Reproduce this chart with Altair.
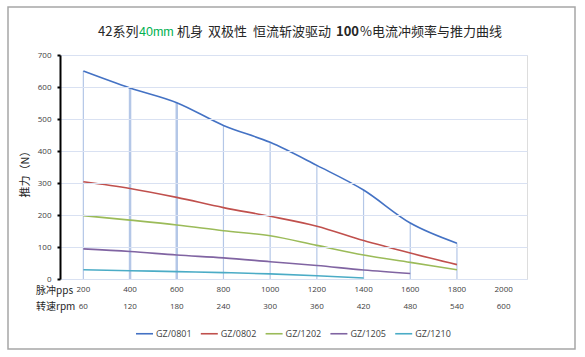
import altair as alt
import pandas as pd

# ---- data ----
x_pps = [200, 400, 600, 800, 1000, 1200, 1400, 1600, 1800]
gz0801 = [650, 597, 551, 480, 427, 355, 278, 175, 112]
gz0802 = [304, 283, 255, 223, 196, 165, 120, 81, 45]
gz1202 = [198, 184, 169, 151, 135, 105, 75, 52, 29]
gz1205 = [94, 86, 75, 66, 54, 42, 28, 17]
gz1210 = [29, 26, 23, 20, 16, 10, 3]

series_names = ["GZ/0801", "GZ/0802", "GZ/1202", "GZ/1205", "GZ/1210"]
series_values = [gz0801, gz0802, gz1202, gz1205, gz1210]
series_colors = ["#4472C4", "#C0504D", "#9BBB59", "#8064A2", "#4BACC6"]

tick_pps = [200, 400, 600, 800, 1000, 1200, 1400, 1600, 1800, 2000]
tick_rpm = [60, 120, 180, 240, 300, 360, 420, 480, 540, 600]

rows = []
for name, vals in zip(series_names, series_values):
    for i, v in enumerate(vals):
        rows.append({"pps": x_pps[i], "force": v, "series": name, "order": i})
df = pd.DataFrame(rows)

drop_df = pd.DataFrame({"pps": x_pps, "force": gz0801})
ticks_df = pd.DataFrame({"pps": tick_pps, "rpm": [str(r) for r in tick_rpm]})
one = pd.DataFrame({"a": [0]})

W, H = 467, 224
xs = alt.Scale(domain=[100, 2100], nice=False, zero=False)
ys = alt.Scale(domain=[0, 700], nice=False)

CJK = "Noto Sans CJK SC"
LAT = "Open Sans"

frame = alt.Chart(one).mark_rect(fill=None, stroke="#a6a6a6", strokeWidth=1.5).encode(
    x=alt.value(-52), x2=alt.value(515), y=alt.value(-48), y2=alt.value(294)
)

yaxis = alt.Axis(values=list(range(0, 701, 100)), grid=True, gridColor="#D9E1F2",
                 gridWidth=1.2, domainColor="#000000", domainWidth=2,
                 tickColor="#000000", tickSize=3, tickWidth=2, labelPadding=6,
                 labelFont=LAT, labelFontSize=8, labelColor="#404040",
                 title="推力（N）", titleFont=CJK, titleFontSize=11,
                 titleFontWeight="normal", titleColor="#262626",
                 titleX=-30, titleY=116, titleAngle=270, zindex=1)

drops = alt.Chart(drop_df).mark_rule(color="#B4C7E7").encode(
    x=alt.X("pps:Q", scale=xs, axis=None),
    y=alt.Y("force:Q", scale=ys, axis=yaxis),
    y2=alt.datum(0),
    strokeWidth=alt.condition("datum.pps == 400 || datum.pps == 600", alt.value(2.5), alt.value(1.2)),
)

lines = alt.Chart(df).mark_line(strokeWidth=1.6, interpolate="monotone").encode(
    x=alt.X("pps:Q", scale=xs, axis=None),
    y=alt.Y("force:Q", scale=ys, axis=yaxis),
    order="order:Q",
    color=alt.Color("series:N", sort=series_names,
                    scale=alt.Scale(domain=series_names, range=series_colors),
                    legend=alt.Legend(orient="none", legendX=75, legendY=269, direction="horizontal",
                                      title=None, symbolType="stroke", symbolSize=289,
                                      symbolStrokeWidth=1.6, labelFont=LAT, labelFontSize=9,
                                      labelColor="#404040", columnPadding=4.8, labelOffset=2)),
)

pps_txt = alt.Chart(ticks_df).mark_text(font=LAT, fontSize=8, color="#404040", baseline="middle").encode(
    x=alt.X("pps:Q", scale=xs), y=alt.value(235), text="pps:N"
)
rpm_txt = alt.Chart(ticks_df).mark_text(font=LAT, fontSize=8, color="#404040", baseline="middle").encode(
    x=alt.X("pps:Q", scale=xs), y=alt.value(252), text="rpm:N"
)
row1 = alt.Chart(one).mark_text(text="脉冲pps", font=CJK, fontSize=10, color="#262626",
                                align="left", baseline="middle").encode(x=alt.value(-24), y=alt.value(236))
row2 = alt.Chart(one).mark_text(text="转速rpm", font=CJK, fontSize=10, color="#262626",
                                align="left", baseline="middle").encode(x=alt.value(-24), y=alt.value(252))

def title_part(text, x, color="#262626", weight="normal", font=CJK, size=13):
    return alt.Chart(one).mark_text(text=text, font=font, fontSize=size, color=color, fontWeight=weight,
                                    align="left", baseline="middle").encode(x=alt.value(x), y=alt.value(-23))

t1 = title_part("42系列", 98 - 60)
t2 = title_part("40mm", 139 - 60, color="#00B050", font="Liberation Sans", size=12.5)
t3a = title_part("机身", 177 - 60)
t3b = title_part("双极性", 208 - 60)
t3c = title_part("恒流斩波驱动", 253 - 60)
t4 = title_part("100", 336 - 60, weight="bold")
t5 = title_part("%电流冲频率与推力曲线", 360 - 60)

chart = alt.layer(frame, drops, lines, pps_txt, rpm_txt, row1, row2,
                  t1, t2, t3a, t3b, t3c, t4, t5).properties(
    width=W, height=H,
    autosize=alt.AutoSizeParams(type="none"),
    padding={"left": 60, "top": 55, "right": 58, "bottom": 78},
).configure_view(stroke=None).configure(background="white")

chart.save("out.html", embed_options={"renderer": "svg", "actions": False})
